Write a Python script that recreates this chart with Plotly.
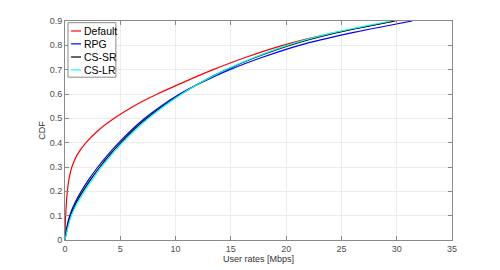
import plotly.graph_objects as go

cdf_levels = [0, 0.05, 0.1, 0.15, 0.2, 0.25, 0.3, 0.35, 0.4, 0.45, 0.5,
              0.55, 0.6, 0.65, 0.7, 0.75, 0.8, 0.85, 0.9]

rates_default = [0, 0.02, 0.06, 0.12, 0.21, 0.36, 0.62, 1.1, 1.9, 3.0, 4.45,
                 6.2, 8.35, 10.8, 13.4, 16.3, 19.7, 24.2, 29.9]
rates_rpg = [0, 0.15, 0.42, 0.87, 1.47, 2.17, 2.97, 3.87, 4.87, 5.97, 7.22,
             8.67, 10.37, 12.5, 14.9, 17.8, 21.2, 25.8, 31.4]
rates_cs_sr = [0, 0.2, 0.5, 0.98, 1.62, 2.35, 3.15, 4.05, 5.05, 6.15, 7.4,
               8.85, 10.5, 12.4, 14.6, 17.2, 20.3, 24.4, 29.8]
rates_cs_lr = [0, 0.25, 0.57, 1.08, 1.75, 2.5, 3.3, 4.2, 5.2, 6.3, 7.55,
               8.95, 10.55, 12.4, 14.55, 17.1, 20.1, 24.1, 29.5]

series_names = ["Default", "RPG", "CS-SR", "CS-LR"]
series_colors = ["#ff0000", "#0000ff", "#000000", "#00ffff"]
series_rates = [rates_default, rates_rpg, rates_cs_sr, rates_cs_lr]

x_ticks = [0, 5, 10, 15, 20, 25, 30, 35]
y_ticks = [0, 0.1, 0.2, 0.3, 0.4, 0.5, 0.6, 0.7, 0.8, 0.9]
y_tick_labels = ["0", "0.1", "0.2", "0.3", "0.4", "0.5", "0.6", "0.7", "0.8", "0.9"]

fig = go.Figure()
for name, color, rates in zip(series_names, series_colors, series_rates):
    fig.add_trace(go.Scatter(x=rates, y=cdf_levels, mode="lines", name=name,
                             showlegend=False,
                             line=dict(color=color, width=1.2, shape="spline", smoothing=0.6)))

# MATLAB-style compact legend (box, line samples and labels), in data coordinates
leg_box = dict(x0=0.27, x1=4.6, y0=0.669, y1=0.893)
leg_line_x = (0.55, 1.45)
leg_text_x = 1.55
leg_rows_y = [0.859, 0.806, 0.752, 0.699]

fig.add_shape(type="rect", xref="x", yref="y", layer="above",
              fillcolor="white", line=dict(color="#8a8a8a", width=1), **leg_box)
for name, color, yy in zip(series_names, series_colors, leg_rows_y):
    fig.add_shape(type="line", xref="x", yref="y", layer="above",
                  x0=leg_line_x[0], x1=leg_line_x[1], y0=yy, y1=yy,
                  line=dict(color=color, width=1.2))
    fig.add_annotation(x=leg_text_x, y=yy, xref="x", yref="y", text=name,
                       showarrow=False, xanchor="left", yanchor="middle",
                       font=dict(size=10.5, color="#000000", family="Liberation Sans, Arial"))

axis_common = dict(showline=True, linecolor="#8a8a8a", linewidth=1, mirror="ticks",
                   ticks="inside", ticklen=4, tickcolor="#8a8a8a",
                   showgrid=True, gridcolor="#ececec", gridwidth=1, zeroline=False,
                   automargin=False,
                   tickfont=dict(size=9, color="#4d4d4d", family="Liberation Sans, Arial"))

# page body has an 8px margin: size the figure to fit inside the 500x270 window
fig.update_layout(
    width=492, height=262,
    margin=dict(l=57, r=48, t=13, b=30),
    paper_bgcolor="white", plot_bgcolor="white",
    font=dict(family="Liberation Sans, Arial", color="#333333"),
    xaxis=dict(range=[0, 35], tickvals=x_ticks,
               title=dict(text="User rates [Mbps]", font=dict(size=9, color="#333333"), standoff=2),
               **axis_common),
    yaxis=dict(range=[0, 0.9], tickvals=y_ticks, ticktext=y_tick_labels,
               title=dict(text="CDF", font=dict(size=9, color="#333333"), standoff=2),
               **axis_common),
    showlegend=False,
)

fig.write_html("out.html")
